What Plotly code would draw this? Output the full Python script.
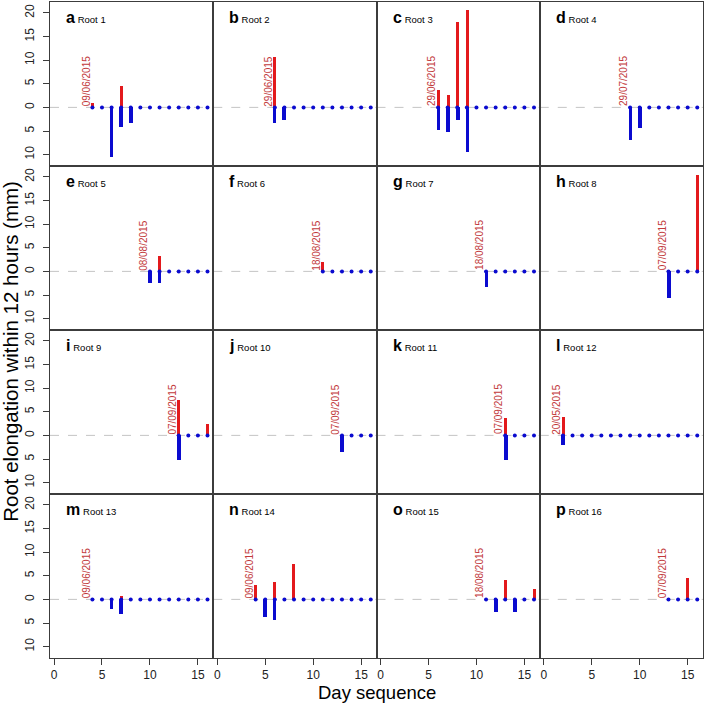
import plotly.graph_objects as go
from plotly.subplots import make_subplots

# ---------------- data ----------------
panel_letters = ["a", "b", "c", "d", "e", "f", "g", "h",
                 "i", "j", "k", "l", "m", "n", "o", "p"]
root_names = ["Root %d" % (i + 1) for i in range(16)]
start_dates = ["09/06/2015", "29/06/2015", "29/06/2015", "29/07/2015",
               "08/08/2015", "18/08/2015", "18/08/2015", "07/09/2015",
               "07/09/2015", "07/09/2015", "07/09/2015", "20/05/2015",
               "09/06/2015", "09/06/2015", "18/08/2015", "07/09/2015"]
start_days = [4, 6, 6, 9, 10, 11, 11, 13, 13, 13, 13, 2, 4, 4, 11, 13]
last_day = 16

# daytime elongation (mm), one value per day from start day to day 16
day_growth = [
    [1.0, 0, 0, 4.5, 0, 0, 0, 0, 0, 0, 0, 0, 0],
    [10.6, 0, 0, 0, 0, 0, 0, 0, 0, 0, 0],
    [3.7, 2.6, 18.1, 20.6, 0, 0, 0, 0, 0, 0, 0],
    [0, 0, 0, 0, 0, 0, 0, 0],
    [0, 3.3, 0, 0, 0, 0, 0],
    [1.9, 0, 0, 0, 0, 0],
    [0, 0, 0, 0, 0, 0],
    [0, 0, 0, 20.5],
    [7.55, 0, 0, 2.4],
    [0, 0, 0, 0],
    [3.7, 0, 0, 0],
    [3.9, 0, 0, 0, 0, 0, 0, 0, 0, 0, 0, 0, 0, 0, 0],
    [0, 0, 0, 0.8, 0, 0, 0, 0, 0, 0, 0, 0, 0],
    [3.0, 0, 3.6, 0, 7.55, 0, 0, 0, 0, 0, 0, 0, 0],
    [0, 0, 4.2, 0, 0, 2.1],
    [0, 0, 4.5, 0],
]
# night-time elongation (mm), plotted downward
night_growth = [
    [0, 0, 10.5, 4.1, 3.4, 0, 0, 0, 0, 0, 0, 0, 0],
    [3.25, 2.7, 0, 0, 0, 0, 0, 0, 0, 0, 0],
    [4.8, 5.15, 2.7, 9.4, 0, 0, 0, 0, 0, 0, 0],
    [6.8, 4.45, 0, 0, 0, 0, 0, 0],
    [2.5, 2.5, 0, 0, 0, 0, 0],
    [0, 0, 0, 0, 0, 0],
    [3.3, 0, 0, 0, 0, 0],
    [5.7, 0, 0, 0],
    [5.3, 0, 0, 0],
    [3.6, 0, 0, 0],
    [5.15, 0, 0, 0],
    [2.0, 0, 0, 0, 0, 0, 0, 0, 0, 0, 0, 0, 0, 0, 0],
    [0, 0, 2.0, 3.1, 0, 0, 0, 0, 0, 0, 0, 0, 0],
    [0, 3.75, 4.45, 0, 0, 0, 0, 0, 0, 0, 0, 0, 0],
    [0, 2.75, 0, 2.75, 0, 0],
    [0, 0, 0, 0],
]

y_tick_vals = [-10, -5, 0, 5, 10, 15, 20]
y_tick_text = ["10", "5", "0", "5", "10", "15", "20"]
x_tick_vals = [0, 5, 10, 15]

# ---------------- style ----------------
RED = "#E3191C"
BLUE = "#0B0BCF"
DATE_COL = "#C2393B"
FRAME = "#3C3C3C"
FONT = "Liberation Sans, Arial, sans-serif"
X_RANGE = [-0.42, 16.6]
Y_RANGE = [-12.4, 22.3]

fig = make_subplots(rows=4, cols=4, horizontal_spacing=0, vertical_spacing=0)

annotations = []
shapes = []
for k in range(16):
    r, c = k // 4 + 1, k % 4 + 1
    days = list(range(start_days[k], last_day + 1))
    ax = "" if k == 0 else str(k + 1)
    # night (blue, downward)
    fig.add_trace(go.Bar(x=days, y=[-v for v in night_growth[k]], width=0.38,
                         marker=dict(color=BLUE, line=dict(width=0)),
                         showlegend=False, hoverinfo="skip"), row=r, col=c)
    # day (red, upward)
    fig.add_trace(go.Bar(x=days, y=day_growth[k], width=0.32,
                         marker=dict(color=RED, line=dict(width=0)),
                         showlegend=False, hoverinfo="skip"), row=r, col=c)
    # dots at zero for every day
    fig.add_trace(go.Scatter(x=days, y=[0] * len(days), mode="markers",
                             marker=dict(color=BLUE, size=4, line=dict(width=0)),
                             showlegend=False, hoverinfo="skip"), row=r, col=c)
    # dashed zero line
    shapes.append(dict(type="line", xref="x%s domain" % ax, yref="y%s" % ax,
                       x0=0, x1=1, y0=0, y1=0, layer="below",
                       line=dict(color="#C4C4C4", width=1, dash="dash")))
    # date label
    annotations.append(dict(xref="x%s" % ax, yref="y%s" % ax,
                            x=start_days[k], y=0, text=start_dates[k],
                            textangle=-90, xanchor="right", yanchor="bottom",
                            showarrow=False, xshift=1, yshift=-1,
                            font=dict(size=10, color=DATE_COL, family=FONT)))
    # panel label
    annotations.append(dict(xref="x%s" % ax, yref="y%s" % ax,
                            x=1.05, y=19.1,
                            text="<b><span style='font-size:16px'>%s</span></b> "
                                 "<span style='font-size:9.5px'>%s</span>"
                                 % (panel_letters[k], root_names[k]),
                            xanchor="left", yanchor="middle", showarrow=False,
                            font=dict(size=10, color="black", family=FONT)))

    fig.update_xaxes(range=X_RANGE, showgrid=False, zeroline=False,
                     automargin=False,
                     showline=True, mirror=True, linecolor=FRAME, linewidth=1,
                     tickvals=x_tick_vals,
                     ticks="outside" if r == 4 else "",
                     ticklen=6, tickcolor=FRAME,
                     showticklabels=(r == 4),
                     tickfont=dict(size=12, color="#222", family=FONT),
                     row=r, col=c)
    fig.update_yaxes(range=Y_RANGE, showgrid=False, zeroline=False,
                     automargin=False,
                     showline=True, mirror=True, linecolor=FRAME, linewidth=1,
                     tickvals=y_tick_vals, ticktext=y_tick_text,
                     ticks="outside" if c == 1 else "",
                     ticklen=6, tickcolor=FRAME, tickangle=-90,
                     ticklabelstandoff=4,
                     showticklabels=(c == 1),
                     tickfont=dict(size=12, color="#222", family=FONT),
                     row=r, col=c)

# axis titles
annotations.append(dict(xref="paper", yref="paper", x=0.5, y=-0.052,
                        text="Day sequence", showarrow=False,
                        xanchor="center", yanchor="middle",
                        font=dict(size=18.5, color="black", family=FONT)))
annotations.append(dict(xref="paper", yref="paper", x=-0.060, y=0.468,
                        text="Root elongation within 12 hours (mm)",
                        showarrow=False, textangle=-90,
                        xanchor="center", yanchor="middle",
                        font=dict(size=20.5, color="black", family=FONT)))

fig.update_layout(template="none", width=709, height=705,
                  margin=dict(l=50, r=6, t=2, b=47),
                  paper_bgcolor="white", plot_bgcolor="white",
                  barmode="overlay", bargap=0,
                  annotations=annotations, shapes=shapes,
                  font=dict(family=FONT))

fig.write_html("out.html", config={"displayModeBar": False},
               post_script="document.body.style.margin='0px';"
                           "document.body.style.overflow='hidden';")
